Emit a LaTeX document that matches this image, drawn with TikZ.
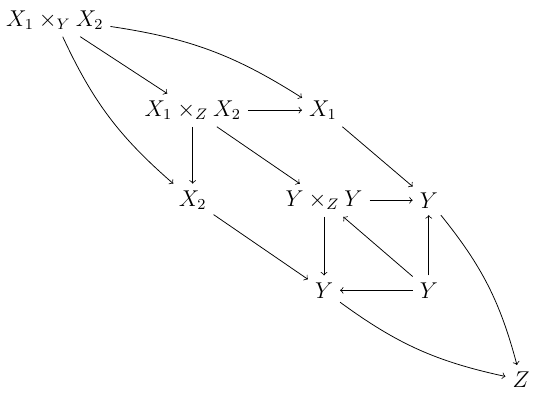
\documentclass[tikz,border=0pt]{standalone}
\usepackage{amssymb,amsmath}
\usepackage{tikz}
\usetikzlibrary{arrows}
\tikzstyle{obj} = [draw=none, inner sep=3.5pt, font=\fontsize{11.6}{14}\selectfont]

\begin{document}
\begin{tikzpicture}[->,>=to,auto]
\useasboundingbox (-1.01,0.37) rectangle (8.94,-7.06);

\node[obj] (XYX) [] {$X_1 \times_Y X_2$};
\node[obj, xshift=2.54cm, yshift=-1.66cm] (XZX) [] {$X_1 \times_Z X_2$};
\node[obj, xshift=4.94cm, yshift=-1.66cm] (X1) [] {$X_1$};

\node[obj, xshift=2.54cm, yshift=-3.32cm] (X2) [] {$X_2$};
\node[obj, xshift=4.96cm, yshift=-3.32cm] (YZY) [] {$Y \times_Z Y$};
\node[obj, xshift=6.89cm, yshift=-3.32cm] (Yr) [] {$Y$};

\node[obj, xshift=4.96cm, yshift=-4.98cm] (Yb) [] {$Y$};
\node[obj, xshift=6.89cm, yshift=-4.98cm] (Ybr) [] {$Y$};

\node[obj, xshift=8.59cm, yshift=-6.63cm] (Z) [] {$Z$};

\path
(XYX) edge [] (XZX)
(XYX) edge [bend left = 12] (X1)
(XYX) edge [bend right = 12] (X2);

\path
(XZX) edge [] (X1)
(XZX) edge [] (X2)
(XZX) edge [] (YZY)
(X1) edge [] (Yr)
(X2) edge [] (Yb);

\path
(YZY) edge [] (Yr)
(YZY) edge [] (Yb)
(Ybr) edge [] (YZY)
(Ybr) edge [] (Yr)
(Ybr) edge [] (Yb);

\path
(Yr) edge [bend left = 12] (Z)
(Yb) edge [bend right = 12] (Z);

\end{tikzpicture}
\end{document}
